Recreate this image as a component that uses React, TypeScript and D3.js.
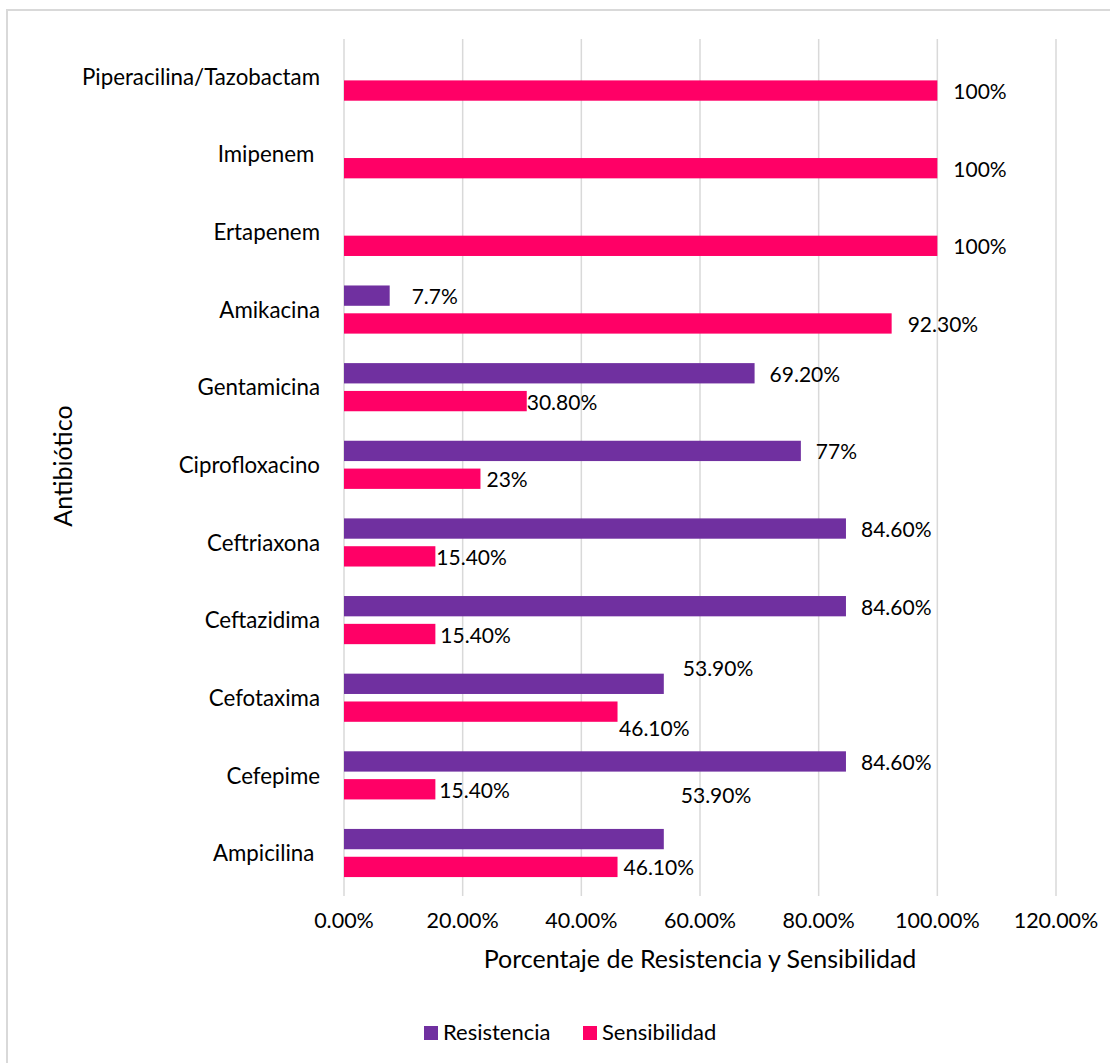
import React from "react";
import * as d3 from "d3";

const categories = [
  "Piperacilina/Tazobactam",
  "Imipenem ",
  "Ertapenem",
  "Amikacina",
  "Gentamicina",
  "Ciprofloxacino",
  "Ceftriaxona",
  "Ceftazidima",
  "Cefotaxima",
  "Cefepime",
  "Ampicilina ",
];
const resistencia: (number | null)[] = [null, null, null, 0.077, 0.692, 0.77, 0.846, 0.846, 0.539, 0.846, 0.539];
const sensibilidad: number[] = [1, 1, 1, 0.923, 0.308, 0.23, 0.154, 0.154, 0.461, 0.154, 0.461];
const resLabels = ["", "", "", "7.7%", "69.20%", "77%", "84.60%", "84.60%", "53.90%", "84.60%", "53.90%"];
const sensLabels = ["100%", "100%", "100%", "92.30%", "30.80%", "23%", "15.40%", "15.40%", "46.10%", "15.40%", "46.10%"];
const xTicks = [0, 0.2, 0.4, 0.6, 0.8, 1.0, 1.2];
const seriesNames = ["Resistencia", "Sensibilidad"];

// label placement offsets (style, px): [dx from bar end, dy from bar centre]
const resLabelOffsets: [number, number][] = [[0, 0], [0, 0], [0, 0], [22, 0], [15, 0], [15, 0], [15, 0], [15, 0], [19, -16], [15, 0], [17, -45]];
const sensLabelOffsets: [number, number][] = [[16, 0], [16, 0], [16, 0], [16, 0], [0, 0], [6, 0], [1, 0], [5, 0], [1.5, 16], [4, 0], [6, 0]];

const W = 1110;
const H = 1063;
const colors = ["#7030A0", "#FF0066"];
const FONT = "Lato, 'Open Sans', sans-serif";

export default function App() {
  const x = d3.scaleLinear().domain([0, 1.2]).range([344, 1056]);
  const y = d3.scaleBand<string>().domain(categories).range([39, 893]).padding(0);
  const inner = d3
    .scaleBand<string>()
    .domain(seriesNames)
    .range([0, y.bandwidth()])
    .paddingInner(0.27)
    .paddingOuter(0.53)
    .align(0.46);
  const tickFmt = d3.format(".2%");
  const bh = inner.bandwidth();

  const series = [
    { name: seriesNames[0], values: resistencia, labels: resLabels, offs: resLabelOffsets, color: colors[0] },
    { name: seriesNames[1], values: sensibilidad, labels: sensLabels, offs: sensLabelOffsets, color: colors[1] },
  ];

  return (
    <svg
      width={W}
      height={H}
      style={{ position: "absolute", left: 0, top: 0, background: "#fff" }}
      fontFamily={FONT}
    >
      <rect x={7} y={10} width={W + 20} height={H + 20} fill="#fff" stroke="#d9d9d9" strokeWidth={2} />
      {/* gridlines */}
      {xTicks.map((t) => (
        <line key={t} x1={x(t)} x2={x(t)} y1={39} y2={896} stroke="#d9d9d9" strokeWidth={1.5} />
      ))}
      {/* bars */}
      {series.map((s) =>
        categories.map((c, i) => {
          const v = s.values[i];
          if (v == null) return null;
          const y0 = (y(c) as number) + (inner(s.name) as number);
          return <rect key={s.name + c} x={x(0)} y={y0} width={x(v) - x(0)} height={bh} fill={s.color} />;
        })
      )}
      {/* data labels */}
      {series.map((s) =>
        categories.map((c, i) => {
          const v = s.values[i];
          if (v == null || !s.labels[i]) return null;
          const yc = (y(c) as number) + (inner(s.name) as number) + bh / 2;
          const [dx, dy] = s.offs[i];
          return (
            <text key={"l" + s.name + c} x={x(v) + dx} y={yc + dy + 8.5} fontSize={21} fill="#000">
              {s.labels[i]}
            </text>
          );
        })
      )}
      {/* category labels */}
      {categories.map((c) => (
        <text
          key={"c" + c}
          x={320}
          y={(y(c) as number) + y.bandwidth() / 2 + 7}
          textAnchor="end"
          fontSize={22.3}
          fill="#000"
          style={{ whiteSpace: "pre" }}
        >
          {c}
        </text>
      ))}
      {/* x tick labels */}
      {xTicks.map((t) => (
        <text key={"t" + t} x={x(t)} y={928} textAnchor="middle" fontSize={21.5} fill="#000">
          {tickFmt(t)}
        </text>
      ))}
      <text x={(x(0) + x(1.2)) / 2} y={968} textAnchor="middle" fontSize={25} fill="#000">
        Porcentaje de Resistencia y Sensibilidad
      </text>
      <text transform={`translate(72,${(39 + 893) / 2}) rotate(-90)`} textAnchor="middle" fontSize={25} fill="#000">
        Antibiótico
      </text>
      {/* legend */}
      {seriesNames.map((n, i) => {
        const lx = i === 0 ? 424 : 583;
        return (
          <g key={"lg" + n}>
            <rect x={lx} y={1026} width={14} height={14} fill={colors[i]} />
            <text x={lx + 19} y={1040} fontSize={22} fill="#000">
              {n}
            </text>
          </g>
        );
      })}
    </svg>
  );
}
